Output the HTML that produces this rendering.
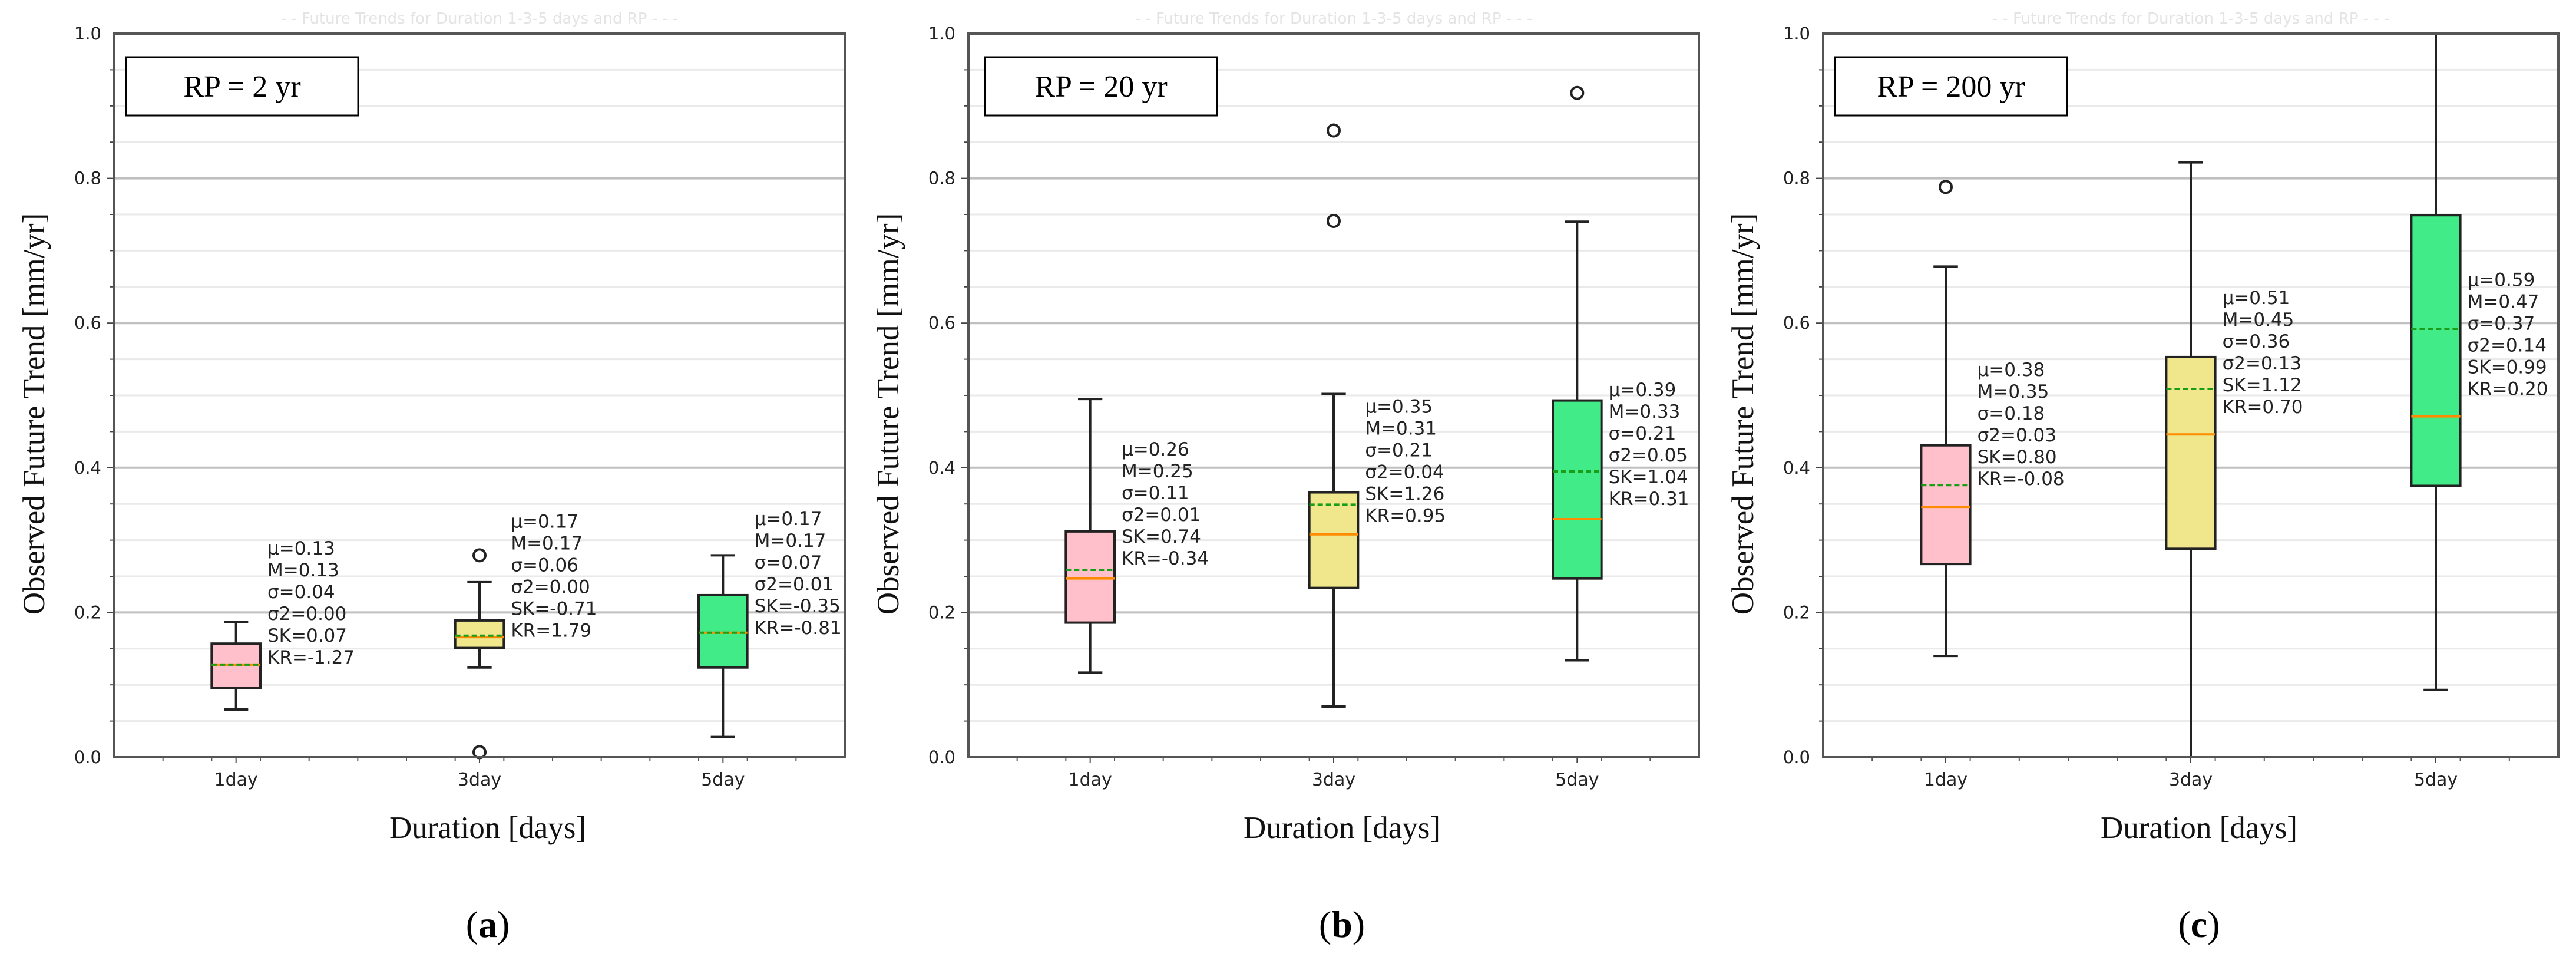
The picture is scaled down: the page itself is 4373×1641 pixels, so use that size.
<!DOCTYPE html>
<html><head><meta charset="utf-8"><style>
html,body{margin:0;padding:0;background:#fff;}
svg{display:block;}
</style></head><body>
<svg id="fig" width="4373" height="1641" viewBox="0 0 4373 1641" xmlns="http://www.w3.org/2000/svg"></svg>
<script>
const categories = ["1day","3day","5day"];
const panelTitles = ["RP = 2 yr","RP = 20 yr","RP = 200 yr"];
const panelLetters = ["a","b","c"];
const yTicks = [0,0.2,0.4,0.6,0.8,1.0];
const yTickLabels = ["0.0","0.2","0.4","0.6","0.8","1.0"];
// per panel, per category: [whiskerLo, q1, median, q3, whiskerHi]
const boxesA = [[0.066,0.096,0.128,0.157,0.187],[0.124,0.151,0.166,0.189,0.242],[0.028,0.124,0.172,0.224,0.279]];
const boxesB = [[0.117,0.186,0.247,0.312,0.495],[0.070,0.234,0.308,0.366,0.502],[0.134,0.247,0.329,0.493,0.740]];
const boxesC = [[0.140,0.267,0.346,0.431,0.678],[0.0,0.288,0.446,0.553,0.822],[0.093,0.375,0.471,0.749,1.0]];
const meansA = [0.128,0.168,0.172];
const meansB = [0.259,0.349,0.395];
const meansC = [0.376,0.509,0.592];
const outliersA = [[],[0.279,0.007],[]];
const outliersB = [[],[0.866,0.741],[0.918]];
const outliersC = [[0.788],[],[]];
const statsA = [["μ=0.13","M=0.13","σ=0.04","σ2=0.00","SK=0.07","KR=-1.27"],["μ=0.17","M=0.17","σ=0.06","σ2=0.00","SK=-0.71","KR=1.79"],["μ=0.17","M=0.17","σ=0.07","σ2=0.01","SK=-0.35","KR=-0.81"]];
const statsB = [["μ=0.26","M=0.25","σ=0.11","σ2=0.01","SK=0.74","KR=-0.34"],["μ=0.35","M=0.31","σ=0.21","σ2=0.04","SK=1.26","KR=0.95"],["μ=0.39","M=0.33","σ=0.21","σ2=0.05","SK=1.04","KR=0.31"]];
const statsC = [["μ=0.38","M=0.35","σ=0.18","σ2=0.03","SK=0.80","KR=-0.08"],["μ=0.51","M=0.45","σ=0.36","σ2=0.13","SK=1.12","KR=0.70"],["μ=0.59","M=0.47","σ=0.37","σ2=0.14","SK=0.99","KR=0.20"]];
const statsTopA = [0.289,0.326,0.330];
const statsTopB = [0.426,0.485,0.508];
const statsTopC = [0.536,0.635,0.660];

const boxColors = ["#ffc0cb","#f0e68c","#40eb88"];
const panels = [
  {x0:194,w:1240,boxes:boxesA,means:meansA,out:outliersA,stats:statsA,top:statsTopA},
  {x0:1644,w:1240,boxes:boxesB,means:meansB,out:outliersB,stats:statsB,top:statsTopB},
  {x0:3095,w:1248,boxes:boxesC,means:meansC,out:outliersC,stats:statsC,top:statsTopC}
];
const Y0=1285, H=1228;
const svg=document.getElementById('fig');
const NS="http://www.w3.org/2000/svg";
function mk(tag,attrs,parent){const e=document.createElementNS(NS,tag);for(const k in attrs)e.setAttribute(k,attrs[k]);(parent||svg).appendChild(e);return e;}
function yS(v){return Y0-Math.min(v,1)*H;}

panels.forEach((p,pi)=>{
  const g=mk('g',{});
  
  
  const xS=i=>p.x0+p.w*(i+0.5)/3;
  const bw=p.w*0.2/3;
  const tt=mk('text',{x:p.x0+p.w/2,y:40,'font-family':'"DejaVu Sans",sans-serif','font-size':26,fill:'#e4e4e4','text-anchor':'middle'},g);
  tt.textContent='- - Future Trends for Duration 1-3-5 days and RP - - -';
  
  
  for(let v=0.05;v<1;v+=0.05){
    const major=Math.abs(v*5-Math.round(v*5))<1e-6;
    const l=mk('line',{x1:p.x0,x2:p.x0+p.w,y1:yS(v),y2:yS(v),stroke:major?'#c0c0c0':'#eaeaea','stroke-width':major?4:3},g);
    
    
    const t=mk('line',{x1:p.x0-(major?12:7),x2:p.x0,y1:yS(v),y2:yS(v),stroke:'#444','stroke-width':2},g);
    
    
  }
  yTicks.forEach((v,i)=>{
    const t=mk('text',{x:p.x0-22,y:yS(v)+10,'font-family':'"DejaVu Sans",sans-serif','font-size':29,fill:'#222','text-anchor':'end'},g);
    t.textContent=yTickLabels[i];
    
    
  });
  for(let k=1;k<15;k++){
    const x=p.x0+p.w*k/15;
    const t=mk('line',{x1:x,x2:x,y1:Y0,y2:Y0+6,stroke:'#555','stroke-width':2},g);
    
    
  }
  categories.forEach((c,i)=>{
    const b=p.boxes[i], x=xS(i);
    const cg=mk('g',{},g);
    
    
    mk('line',{x1:x,x2:x,y1:yS(b[0]),y2:yS(b[1]),stroke:'#222','stroke-width':4},cg);
    mk('line',{x1:x,x2:x,y1:yS(b[3]),y2:yS(b[4]),stroke:'#222','stroke-width':4},cg);
    mk('line',{x1:x-bw/4,x2:x+bw/4,y1:yS(b[0]),y2:yS(b[0]),stroke:'#222','stroke-width':4},cg);
    if(b[4]<1) mk('line',{x1:x-bw/4,x2:x+bw/4,y1:yS(b[4]),y2:yS(b[4]),stroke:'#222','stroke-width':4},cg);
    mk('rect',{x:x-bw/2,y:yS(b[3]),width:bw,height:yS(b[1])-yS(b[3]),fill:boxColors[i],stroke:'#222','stroke-width':4},cg);
    const med=mk('line',{x1:x-bw/2,x2:x+bw/2,y1:yS(b[2]),y2:yS(b[2]),stroke:'#ff8c00','stroke-width':4},cg);
    
    
    const mn=mk('line',{x1:x-bw/2,x2:x+bw/2,y1:yS(p.means[i]),y2:yS(p.means[i]),stroke:'#1a9e1a','stroke-width':4,'stroke-dasharray':'9,5'},cg);
    
    
    p.out[i].forEach(o=>{
      const ci=mk('circle',{cx:x,cy:yS(o),r:10,fill:'none',stroke:'#222','stroke-width':4},cg);
      
      
    });
    const st=mk('text',{x:x+bw/2+12,y:yS(p.top[i])+11,'font-family':'"DejaVu Sans",sans-serif','font-size':31,fill:'#222'},g);
    
    
    p.stats[i].forEach((s,k)=>{const ts=mk('tspan',{x:x+bw/2+12,dy:k?37:0},st);ts.textContent=s;});
    const xl=mk('text',{x:x,y:Y0+48,'font-family':'"DejaVu Sans",sans-serif','font-size':30,fill:'#222','text-anchor':'middle'},g);
    xl.textContent=c;
    
    
    mk('line',{x1:x,x2:x,y1:Y0,y2:Y0+10,stroke:'#444','stroke-width':2},g);
  });
  const fr=mk('rect',{x:p.x0,y:Y0-H,width:p.w,height:H,fill:'none',stroke:'#555','stroke-width':4},g);
  
  
  const rb=mk('rect',{x:p.x0+20+(pi==1?8:0),y:97,width:394,height:99,fill:'#fff',stroke:'#000','stroke-width':3},g);
  
  
  const rt=mk('text',{x:p.x0+217+(pi==1?8:0),y:164,'font-family':'"Liberation Serif",serif','font-size':52,fill:'#000','text-anchor':'middle'},g);
  rt.textContent=panelTitles[pi];
  
  
  const yl=mk('text',{x:0,y:0,transform:`translate(${p.x0-119},${(313+1092)/2}) rotate(-90)`,'font-family':'"Liberation Serif",serif','font-size':53,fill:'#111','text-anchor':'middle'},g);
  yl.textContent='Observed Future Trend [mm/yr]';
  
  
  const xt=mk('text',{x:p.x0+p.w/2+14,y:1422,'font-family':'"Liberation Serif",serif','font-size':53,fill:'#111','text-anchor':'middle'},g);
  xt.textContent='Duration [days]';
  
  
  const lt=mk('text',{x:p.x0+p.w/2+14,y:1590,'font-family':'"Liberation Serif",serif','font-size':64,fill:'#000','text-anchor':'middle'},g);
  lt.innerHTML='(<tspan font-weight="bold">'+panelLetters[pi]+'</tspan>)';
  
  
});
</script>
</body></html>
